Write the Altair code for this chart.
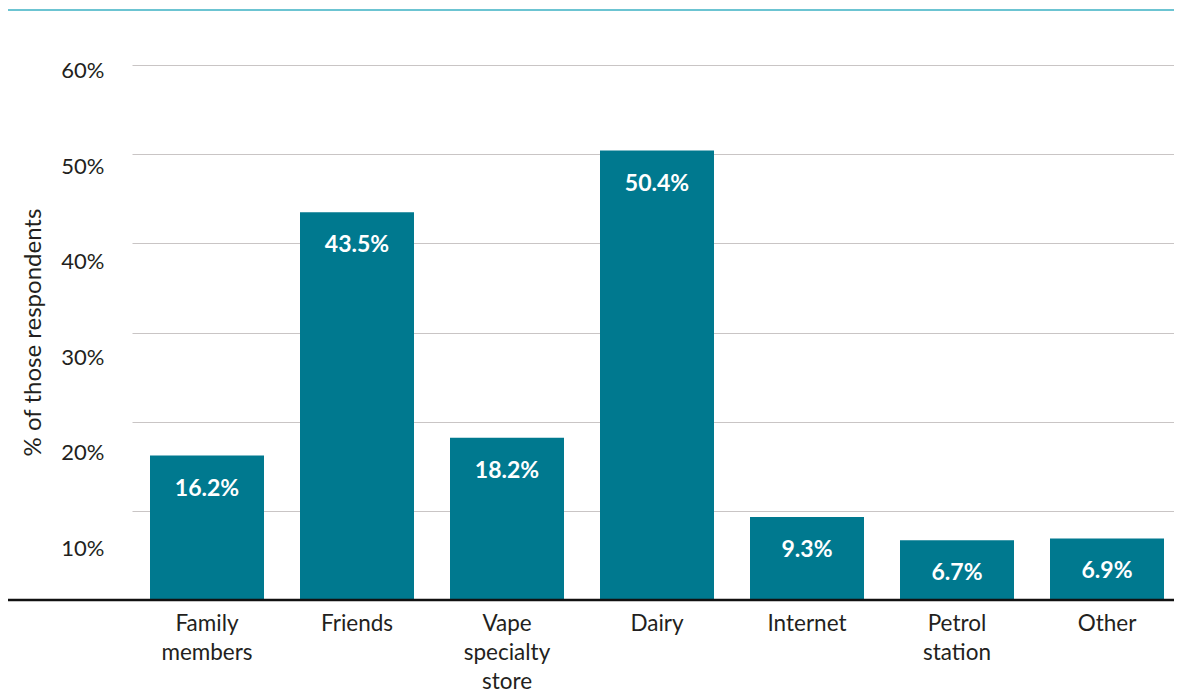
import altair as alt
import pandas as pd

categories = ["Family\nmembers", "Friends", "Vape\nspecialty\nstore", "Dairy",
              "Internet", "Petrol\nstation", "Other"]
values = [16.2, 43.5, 18.2, 50.4, 9.3, 6.7, 6.9]
y_ticks = [0, 10, 20, 30, 40, 50, 60]

df = pd.DataFrame({"source": categories, "pct": values})
df["label"] = [f"{v:.1f}%" for v in values]

FONT = "Lato"
TEXT = "#231f20"
BAR = "#00798F"

W, H = 1049, 535

x_enc = alt.X(
    "source:N", sort=categories,
    scale=alt.Scale(range=[7, 1057], paddingInner=0.24, paddingOuter=0.12),
    axis=alt.Axis(title=None, labelAngle=0, labelExpr="split(datum.label, '\\n')",
                  labelFont=FONT, labelFontSize=22.5, labelColor=TEXT, labelLineHeight=29,
                  labelPadding=12, ticks=False, domain=False, grid=False),
)
y_enc = alt.Y(
    "pct:Q", scale=alt.Scale(domain=[0, 60], nice=False),
    axis=alt.Axis(values=y_ticks, title="% of those respondents",
                  labelExpr="datum.value == 0 ? '' : datum.value + '%'",
                  labelFont=FONT, labelFontSize=22, labelColor=TEXT, labelPadding=21,
                  labelOffset=alt.ExprRef(expr="43.6 - 0.63 * datum.value"),
                  titleFont=FONT, titleFontSize=24, titleFontWeight="normal", titleColor=TEXT,
                  titleX=-92, titleY=267, titleAngle=270, titleAlign="center", titleBaseline="middle",
                  ticks=False, domain=False, grid=True, gridColor="#c9c5c5", gridWidth=1),
)

base = alt.Chart(df)
bars = base.mark_bar(color=BAR).encode(x=x_enc, y=y_enc)
labels = base.mark_text(dy=33, baseline="middle", align="center", color="white",
                        fontSize=23, fontWeight="bold", font=FONT).encode(
    x=alt.X("source:N", sort=categories), y="pct:Q", text="label:N")

one = pd.DataFrame({"v": [0]})
baseline = alt.Chart(one).mark_rule(color="#111111", strokeWidth=2.5).encode(
    y=alt.datum(0), x=alt.value(-118), x2=alt.value(W))
top_rule = alt.Chart(one).mark_rule(color="#6cc4d2", strokeWidth=2).encode(
    y=alt.value(-55), x=alt.value(-119), x2=alt.value(W))

chart = alt.layer(bars, labels, baseline, top_rule).properties(
    width=W, height=H,
    autosize=alt.AutoSizeParams(type="none"),
    padding={"left": 117, "top": 57, "right": 0, "bottom": 91},
    background="white",
).configure_view(stroke=None)

chart.save("out.html", embed_options={"renderer": "svg", "actions": False})
